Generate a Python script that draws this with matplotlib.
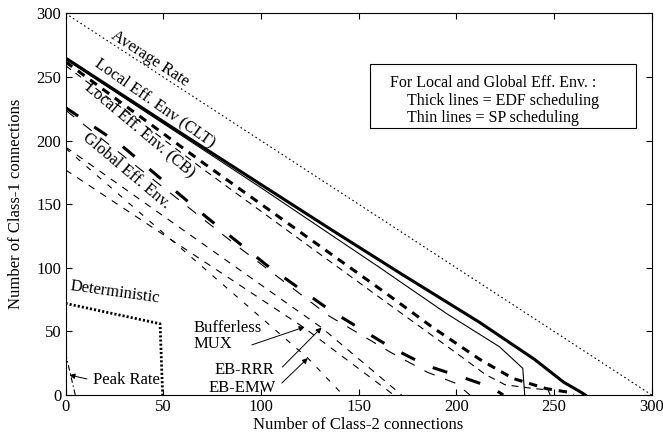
"""Admissible region of Class-1 / Class-2 connections for several envelopes."""

import matplotlib

matplotlib.use("Agg")

import matplotlib.pyplot as plt
from matplotlib.patches import Rectangle

plt.rcParams["font.family"] = ["Liberation Serif", "DejaVu Serif"]
plt.rcParams["font.size"] = 12
plt.rcParams["lines.scale_dashes"] = False

# --- data ----------------------------------------------------------------
avg_x = [0, 300]
avg_y = [300, 0]

clt_edf_x = [0, 60, 137, 171, 212, 240, 255, 264, 266]
clt_edf_y = [265, 205, 129, 96, 57, 28, 10, 2, 0]

clt_sp_x = [0, 100, 160, 195, 222, 234, 235]
clt_sp_y = [264, 163, 101, 64, 38, 21, 0]

cb_edf_x = [0, 70, 164, 188, 212, 229, 246, 258, 260]
cb_edf_y = [262, 183, 80, 53, 28, 13, 5, 2, 0]

cb_sp_x = [0, 70, 164, 200, 215, 225, 240, 247, 248]
cb_sp_y = [259, 178, 73, 33, 16, 8, 5, 4, 0]

glob_edf_x = [0, 28, 72, 103, 135, 152, 167, 185, 203, 218, 224]
glob_edf_y = [226, 197, 140, 102, 67, 51, 37, 23, 14, 6, 0]

glob_sp_x = [0, 88, 135, 167, 185, 200, 207]
glob_sp_y = [224, 117, 62, 33, 18, 9, 0]

bufferless_x = [0, 122, 168]
bufferless_y = [177, 53, 0]

eb_rrr_x = [0, 131, 172]
eb_rrr_y = [195, 53, 0]

eb_emw_x = [0, 124, 142]
eb_emw_y = [194, 29, 0]

determ_x = [0, 48.4, 49.7]
determ_y = [72, 56, 0]

peak_x = [0, 5]
peak_y = [33, 0]

x_ticks = [0, 50, 100, 150, 200, 250, 300]
y_ticks = [0, 50, 100, 150, 200, 250, 300]

legend_lines = [
    "For Local and Global Eff. Env. :",
    "Thick lines = EDF scheduling",
    "Thin lines = SP scheduling",
]


def main() -> None:
    fig = plt.figure(figsize=(6.63, 4.33), dpi=100)
    ax = fig.add_axes([0.0988, 0.0878, 0.8842, 0.8812])

    k = "black"
    ax.plot(avg_x, avg_y, color=k, lw=0.8, dashes=(1.2, 2.0))
    ax.plot(clt_edf_x, clt_edf_y, color=k, lw=2.2)
    ax.plot(clt_sp_x, clt_sp_y, color=k, lw=0.8)
    ax.plot(cb_edf_x, cb_edf_y, color=k, lw=2.2, dashes=(6.0, 5.0))
    ax.plot(cb_sp_x, cb_sp_y, color=k, lw=0.8, dashes=(5.0, 4.0))
    ax.plot(glob_edf_x, glob_edf_y, color=k, lw=2.2, dashes=(11.0, 14.0))
    ax.plot(glob_sp_x, glob_sp_y, color=k, lw=0.8, dashes=(8.0, 8.0))
    ax.plot(bufferless_x, bufferless_y, color=k, lw=0.8, dashes=(5.0, 5.0))
    ax.plot(eb_rrr_x, eb_rrr_y, color=k, lw=0.8, dashes=(5.0, 5.0))
    ax.plot(eb_emw_x, eb_emw_y, color=k, lw=0.8, dashes=(4.0, 6.0))
    ax.plot(determ_x, determ_y, color=k, lw=2.0, dashes=(1.5, 1.5))
    ax.plot(peak_x, peak_y, color=k, lw=0.8, dashes=(4.0, 2.0, 1.0, 2.0))

    # rotated curve labels
    ax.text(43.4, 264.5, "Average Rate", rotation=-33, ha="center", va="center",
            rotation_mode="anchor")
    ax.text(46, 229.5, "Local Eff. Env (CLT)", rotation=-35, ha="center", va="center",
            rotation_mode="anchor")
    ax.text(38, 208.5, "Local Eff. Env. (CB)", rotation=-40, ha="center", va="center",
            rotation_mode="anchor")
    ax.text(31, 176, "Global Eff. Env.", rotation=-40, ha="center", va="center",
            rotation_mode="anchor")
    ax.text(25.5, 81, "Deterministic", rotation=-8, ha="center", va="center",
            rotation_mode="anchor")

    # annotated labels
    arrow = dict(arrowstyle="-|>", color=k, lw=0.7, mutation_scale=8, shrinkA=0, shrinkB=0)
    ax.text(65.3, 46, "Bufferless\nMUX", ha="left", va="center", linespacing=1.0)
    ax.annotate("", xy=(122.4, 53.5), xytext=(95.4, 39.4), arrowprops=arrow)
    ax.text(91.3, 19.7, "EB-RRR", ha="center", va="center")
    ax.annotate("", xy=(131, 53), xytext=(111, 22), arrowprops=arrow)
    ax.text(90.5, 5.5, "EB-EMW", ha="center", va="center")
    ax.annotate("", xy=(124, 29), xytext=(110.7, 9.4), arrowprops=arrow)
    ax.text(31, 11.8, "Peak Rate", ha="center", va="center")
    ax.annotate("", xy=(2, 15.7), xytext=(11, 12.6), arrowprops=arrow)

    # legend box
    ax.add_patch(Rectangle((155.6, 210), 136.2, 50, fill=False, edgecolor=k, lw=0.8))
    ax.text(166, 245.5, legend_lines[0], ha="left", va="center", fontsize=11.5)
    ax.text(175, 231.5, legend_lines[1], ha="left", va="center", fontsize=11.5)
    ax.text(175, 218, legend_lines[2], ha="left", va="center", fontsize=11.5)

    ax.set_xlim(0, 300)
    ax.set_ylim(0, 300)
    ax.set_xticks(x_ticks)
    ax.set_yticks(y_ticks)
    ax.tick_params(direction="in", top=True, right=True, length=4, width=0.8, pad=3)
    for spine in ax.spines.values():
        spine.set_linewidth(0.8)
    ax.set_xlabel("Number of Class-2 connections", labelpad=1)
    ax.set_ylabel("Number of Class-1 connections", labelpad=9)

    fig.savefig("out.png", dpi=100)
    plt.close(fig)


if __name__ == "__main__":
    main()
